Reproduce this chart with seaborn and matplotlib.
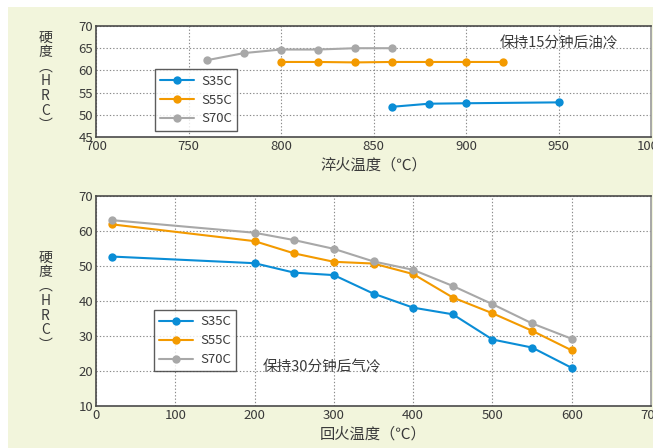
"""
Hardness of S35C / S55C / S70C vs quench and temper temperature.
Two stacked panels, seaborn line plots with markers.
"""

import numpy as np
import pandas as pd
import matplotlib
matplotlib.use("Agg")
import matplotlib.pyplot as plt
import seaborn as sns

# ─── Data: quenching (15 min hold, oil cooled) ───
quench_s35c_x = [860, 880, 900, 950]
quench_s35c_y = [51.8, 52.5, 52.6, 52.8]
quench_s55c_x = [800, 820, 840, 860, 880, 900, 920]
quench_s55c_y = [61.9, 61.9, 61.8, 61.9, 61.9, 61.9, 61.9]
quench_s70c_x = [760, 780, 800, 820, 840, 860]
quench_s70c_y = [62.3, 63.9, 64.7, 64.7, 65.0, 65.0]

# ─── Data: tempering (30 min hold, air cooled) ───
temper_x = [20, 200, 250, 300, 350, 400, 450, 500, 550, 600]
temper_s35c = [52.7, 50.8, 48.1, 47.4, 42.1, 38.1, 36.2, 29.0, 26.7, 20.9]
temper_s55c = [61.9, 57.1, 53.6, 51.2, 50.7, 47.7, 41.0, 36.5, 31.5, 25.9]
temper_s70c = [63.1, 59.5, 57.4, 54.9, 51.3, 48.9, 44.3, 39.1, 33.6, 29.2]

grades = ["S35C", "S55C", "S70C"]
palette = {"S35C": "#0a8dd6", "S55C": "#f39a00", "S70C": "#a8a8a8"}

BG = "#f2f5dc"
TXT = "#3a3a3a"

sns.set_theme(style="white")
plt.rcParams["font.family"] = ["Noto Sans CJK SC", "DejaVu Sans"]
plt.rcParams["axes.unicode_minus"] = False


def build_quench_df():
    rows = []
    for g, xs, ys in zip(grades,
                         [quench_s35c_x, quench_s55c_x, quench_s70c_x],
                         [quench_s35c_y, quench_s55c_y, quench_s70c_y]):
        rows += [{"temp": x, "hrc": y, "grade": g} for x, y in zip(xs, ys)]
    return pd.DataFrame(rows)


def build_temper_df():
    rows = []
    for g, ys in zip(grades, [temper_s35c, temper_s55c, temper_s70c]):
        rows += [{"temp": x, "hrc": y, "grade": g} for x, y in zip(temper_x, ys)]
    return pd.DataFrame(rows)


def style_axes(ax):
    ax.set_facecolor("white")
    ax.grid(True, color="#8a8a8a", linestyle=(0, (1.2, 1.8)), linewidth=0.8)
    for side in ["left", "bottom", "top"]:
        ax.spines[side].set_color("#4a4a4a")
        ax.spines[side].set_linewidth(1.2)
    ax.spines["right"].set_color("#9a9a9a")
    ax.spines["right"].set_linewidth(1.2)
    ax.tick_params(axis="both", labelsize=9.5, colors=TXT, length=0, pad=2)
    for lab in ax.get_xticklabels() + ax.get_yticklabels():
        lab.set_color(TXT)


def draw_panel(ax, df, xlim, xticks, ylim, yticks, xlabel, note, note_xy, legend_anchor):
    sns.lineplot(data=df, x="temp", y="hrc", hue="grade", hue_order=grades,
                 palette=palette, marker="o", markersize=6, markeredgewidth=0,
                 linewidth=1.5, ax=ax, legend=True)
    ax.set_xlim(*xlim)
    ax.set_ylim(*ylim)
    ax.set_xticks(xticks)
    ax.set_yticks(yticks)
    style_axes(ax)
    ax.set_xlabel(xlabel, fontsize=11, color=TXT, labelpad=3)
    ax.set_ylabel("硬\n度\n︵\nH\nR\nC\n︶", fontsize=10, color=TXT,
                  rotation=0, va="center", ha="center", linespacing=1.05,
                  labelpad=24)
    ax.text(note_xy[0], note_xy[1], note, transform=ax.transAxes,
            fontsize=10.5, color=TXT, va="center", ha="left")
    leg = ax.legend(loc="upper left", bbox_to_anchor=legend_anchor,
                    fontsize=9.5, frameon=True, fancybox=False,
                    borderpad=0.4, labelspacing=0.45, handlelength=2.6,
                    handletextpad=0.5, borderaxespad=0)
    leg.get_frame().set_edgecolor("#333333")
    leg.get_frame().set_linewidth(1.0)
    for t in leg.get_texts():
        t.set_color(TXT)


def main():
    fig = plt.figure(figsize=(6.53, 4.48), dpi=100)
    fig.patch.set_facecolor("white")
    # light panel background behind both charts
    fig.patches.append(plt.Rectangle((8 / 653, 0), 1, 1 - 7 / 448,
                                     transform=fig.transFigure,
                                     facecolor=BG, edgecolor="none", zorder=-1))

    ax_top = fig.add_axes([96 / 653, 1 - 137 / 448, 555 / 653, 111 / 448])
    ax_bot = fig.add_axes([96 / 653, 1 - 406 / 448, 555 / 653, 210 / 448])

    draw_panel(ax_top, build_quench_df(),
               xlim=(700, 1000), xticks=np.arange(700, 1001, 50),
               ylim=(45, 70), yticks=np.arange(45, 71, 5),
               xlabel="淬火温度（℃）", note="保持15分钟后油冷",
               note_xy=(0.727, 0.845), legend_anchor=(0.106, 0.61))
    ax_top.set_xticklabels(["700", "750", "800", "850", "900", "950", "1000"])

    draw_panel(ax_bot, build_temper_df(),
               xlim=(0, 700), xticks=np.arange(0, 701, 100),
               ylim=(10, 70), yticks=np.arange(10, 71, 10),
               xlabel="回火温度（℃）", note="保持30分钟后气冷",
               note_xy=(0.3, 0.185), legend_anchor=(0.104, 0.457))

    fig.savefig("out.png", dpi=100, facecolor=fig.get_facecolor())
    plt.close(fig)


if __name__ == "__main__":
    main()
